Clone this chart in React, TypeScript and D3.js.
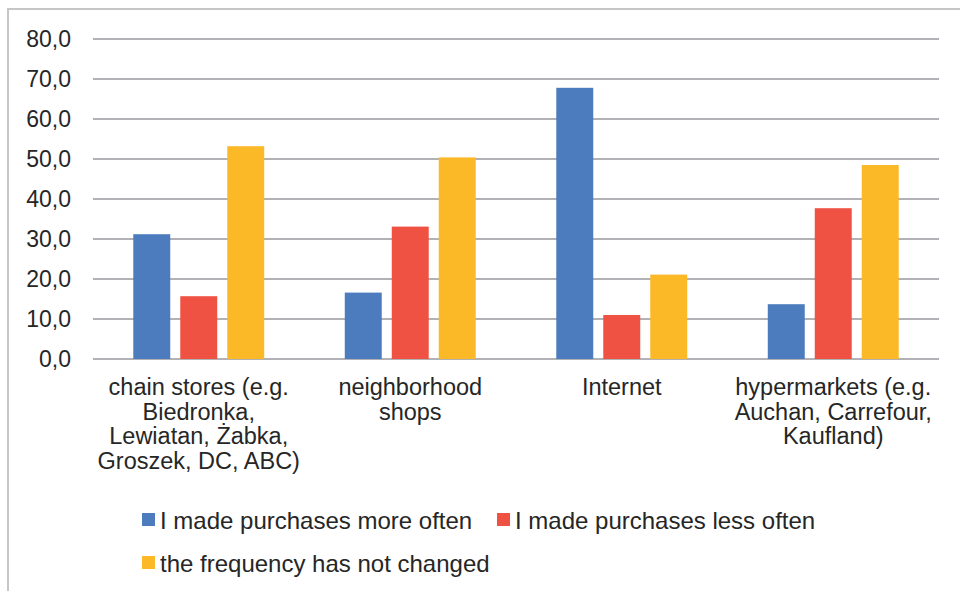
import React from "react";
import * as d3 from "d3";

const categories: string[][] = [
  ["chain stores (e.g.", "Biedronka,", "Lewiatan, Żabka,", "Groszek, DC, ABC)"],
  ["neighborhood", "shops"],
  ["Internet"],
  ["hypermarkets (e.g.", "Auchan, Carrefour,", "Kaufland)"],
];
const seriesNames = [
  "I made purchases more often",
  "I made purchases less often",
  "the frequency has not changed",
];
const moreOften = [31.2, 16.6, 67.8, 13.7];
const lessOften = [15.7, 33.1, 11.0, 37.7];
const unchanged = [53.2, 50.4, 21.1, 48.5];
const yTicks = [0, 10, 20, 30, 40, 50, 60, 70, 80];
const colors = ["#4D7CBE", "#EF5242", "#FBB928"];

export default function App() {
  const W = 960, H = 591;
  const plotLeft = 93, plotRight = 939, plotTop = 39, plotBottom = 359;
  const seriesValues = [moreOften, lessOften, unchanged];
  const catIdx = categories.map((_, i) => String(i));
  const x0 = d3.scaleBand<string>().domain(catIdx).range([plotLeft, plotRight]).padding(0);
  const x1 = d3
    .scaleBand<string>()
    .domain(seriesNames)
    .range([0, x0.bandwidth()])
    .paddingInner(0.213)
    .paddingOuter(0.857);
  const y = d3.scaleLinear().domain([0, 80]).range([plotBottom, plotTop]);
  const fmt = (v: number) => v.toFixed(1).replace(".", ",");
  const font = "Liberation Sans, Arial, sans-serif";
  const textColor = "#262626";

  const legendRows = [
    [{ i: 0, x: 142 }, { i: 1, x: 497 }],
    [{ i: 2, x: 142 }],
  ];
  const legendY = [520, 563];

  return (
    <svg
      width={W}
      height={H}
      style={{ position: "absolute", left: 0, top: 0, background: "#fff" }}
      fontFamily={font}
    >
      <rect x={0} y={0} width={W} height={H} fill="#fff" />
      <rect x={8} y={9} width={W + 20} height={H + 20} fill="none" stroke="#c6c6c6" strokeWidth={2} />
      {yTicks.map((t) => (
        <g key={t}>
          <line x1={plotLeft} x2={plotRight} y1={y(t)} y2={y(t)} stroke="#b2b2b6" strokeWidth={2} />
          <text x={71} y={y(t)} dy="0.36em" textAnchor="end" fontSize={23} fill={textColor}>
            {fmt(t)}
          </text>
        </g>
      ))}
      {categories.map((_, ci) =>
        seriesNames.map((s, si) => {
          const v = seriesValues[si][ci];
          return (
            <rect
              key={`${ci}-${si}`}
              x={(x0(String(ci)) ?? 0) + (x1(s) ?? 0)}
              y={y(v)}
              width={x1.bandwidth()}
              height={y(0) - y(v)}
              fill={colors[si]}
            />
          );
        })
      )}
      {categories.map((lines, ci) => (
        <text
          key={ci}
          x={(x0(String(ci)) ?? 0) + x0.bandwidth() / 2}
          y={395}
          textAnchor="middle"
          fontSize={23.5}
          fill={textColor}
        >
          {lines.map((l, li) => (
            <tspan key={li} x={(x0(String(ci)) ?? 0) + x0.bandwidth() / 2} dy={li === 0 ? 0 : 24.7}>
              {l}
            </tspan>
          ))}
        </text>
      ))}
      {legendRows.map((row, ri) =>
        row.map(({ i, x }) => (
          <g key={i}>
            <rect x={x} y={legendY[ri] - 7} width={13} height={13} fill={colors[i]} />
            <text x={x + 18} y={legendY[ri]} dy="0.36em" fontSize={24} fill={textColor}>
              {seriesNames[i]}
            </text>
          </g>
        ))
      )}
    </svg>
  );
}
